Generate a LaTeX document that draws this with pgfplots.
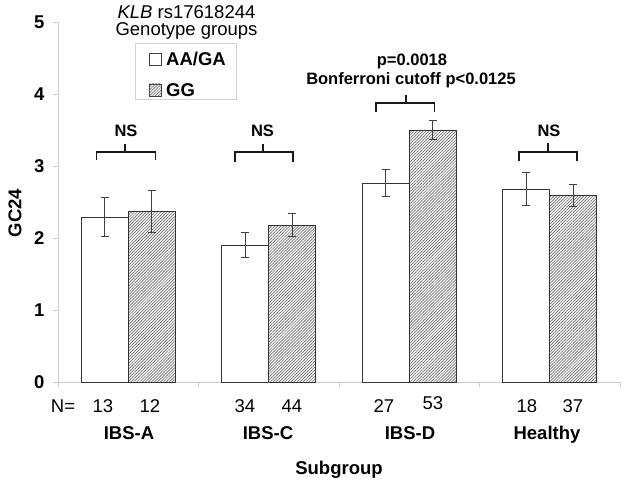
\documentclass[border=0pt]{standalone}
\usepackage{pgfplots}
\pgfplotsset{compat=1.18}
\usepackage{fontspec}
\setmainfont{Liberation Sans}
\usetikzlibrary{patterns,patterns.meta}
\newcommand\fbig{\fontsize{18.5bp}{21bp}\selectfont}
\newcommand\fmid{\fontsize{16.5bp}{19bp}\selectfont}
\newcommand\ftick{\fontsize{18.5bp}{20bp}\selectfont}
\tikzset{hatch/.style={fill=gray!12, postaction={pattern={Lines[angle=45, distance=2.1bp, line width=0.5bp]}, pattern color=black!60}}}
\begin{document}
\begin{tikzpicture}
\path[use as bounding box] (0,0) rectangle (625bp,483bp);
\begin{axis}[
  at={(58bp,101bp)}, anchor=south west,
  scale only axis, width=562bp, height=360bp,
  xmin=0.5, xmax=4.5, ymin=0, ymax=5,
  axis x line=bottom, axis y line=left,
  axis line style={gray!40, -, line width=0.8bp},
  tick align=outside, major tick length=5bp,
  tick style={gray!40, line width=0.8bp},
  xtick={0.5,1.5,2.5,3.5,4.5}, xticklabels={},
  ytick={0,1,2,3,4,5},
  /pgf/number format/assume math mode=true,
  yticklabel style={font=\ftick\bfseries, xshift=-5bp},
  clip=false,
]
% AA/GA
\addplot[ybar, bar width=0.335, bar shift=0, fill=white, draw=black!80, line width=0.8bp,
  error bars/.cd, y dir=both, y explicit,
  error bar style={black!75, line width=1bp},
  error mark options={rotate=90, mark size=4bp, line width=1bp, black!75}]
  coordinates {(0.8325,2.29) +- (0,0.275) (1.8325,1.90) +- (0,0.17) (2.8325,2.76) +- (0,0.19) (3.8325,2.68) +- (0,0.23)};
% GG
\addplot[ybar, bar width=0.335, bar shift=0, hatch, draw=black!80, line width=0.8bp,
  error bars/.cd, y dir=both, y explicit,
  error bar style={black!75, line width=1bp},
  error mark options={rotate=90, mark size=4bp, line width=1bp, black!75}]
  coordinates {(1.1675,2.37) +- (0,0.29) (2.1675,2.18) +- (0,0.155) (3.1675,3.50) +- (0,0.13) (4.1675,2.59) +- (0,0.155)};
% brackets
\addplot[black!90, line width=1.5bp, no marks] coordinates {(0.775,3.083) (0.775,3.194) (1.195,3.194) (1.195,3.083)};
\addplot[black!90, line width=1.5bp, no marks] coordinates {(0.977,3.194) (0.977,3.306)};
\addplot[black!90, line width=1.5bp, no marks] coordinates {(1.76,3.06) (1.76,3.194) (2.173,3.194) (2.173,3.06)};
\addplot[black!90, line width=1.5bp, no marks] coordinates {(1.959,3.194) (1.959,3.306)};
\addplot[black!90, line width=1.5bp, no marks] coordinates {(2.763,3.75) (2.763,3.875) (3.178,3.875) (3.178,3.75)};
\addplot[black!90, line width=1.5bp, no marks] coordinates {(2.977,3.875) (2.977,3.986)};
\addplot[black!90, line width=1.5bp, no marks] coordinates {(3.781,3.069) (3.781,3.194) (4.194,3.194) (4.194,3.069)};
\addplot[black!90, line width=1.5bp, no marks] coordinates {(3.988,3.194) (3.988,3.319)};
\end{axis}
\begin{scope}[x=1bp, y=-1bp, shift={(0bp,483bp)}]
  % y label
  \node[rotate=90, font=\ftick\bfseries] at (15,213) {GC24};
  % N row
  \node[anchor=base, font=\fbig] at (63,413) {N=};
  \node[anchor=base, font=\fbig] at (103,413) {13};
  \node[anchor=base, font=\fbig] at (150,413) {12};
  \node[anchor=base, font=\fbig] at (245,413) {34};
  \node[anchor=base, font=\fbig] at (292,413) {44};
  \node[anchor=base, font=\fbig] at (384,413) {27};
  \node[anchor=base, font=\fbig] at (433,410) {53};
  \node[anchor=base, font=\fbig] at (527,413) {18};
  \node[anchor=base, font=\fbig] at (573,413) {37};
  % group names
  \node[anchor=base, font=\fbig\bfseries] at (129,440) {IBS-A};
  \node[anchor=base, font=\fbig\bfseries] at (268,440) {IBS-C};
  \node[anchor=base, font=\fbig\bfseries] at (410,440) {IBS-D};
  \node[anchor=base, font=\fbig\bfseries] at (547,440) {Healthy};
  \node[anchor=base, font=\fbig\bfseries] at (339,475) {Subgroup};
  % NS and p
  \node[anchor=base, font=\fmid\bfseries] at (126,137) {NS};
  \node[anchor=base, font=\fmid\bfseries] at (262.5,137) {NS};
  \node[anchor=base, font=\fmid\bfseries] at (549,137) {NS};
  \node[anchor=base, font=\fmid\bfseries] at (412,66) {p=0.0018};
  \node[anchor=base, font=\fmid\bfseries] at (411,85) {Bonferroni cutoff p<0.0125};
  % legend
  \node[anchor=base, font=\fbig] at (186.5,19) {\textit{KLB} rs17618244};
  \node[anchor=base, font=\fbig] at (186.5,36) {Genotype groups};
  \draw[gray!35, line width=0.8bp] (135,43) rectangle (236,99);
  \draw[black!75, line width=0.8bp, fill=white] (149,53) rectangle (161,65);
  \draw[black!75, line width=0.8bp, hatch] (149,84) rectangle (161,96);
  \node[anchor=base west, font=\fbig\bfseries, inner sep=0pt] at (166,65.5) {AA/GA};
  \node[anchor=base west, font=\fbig\bfseries, inner sep=0pt] at (166,96.5) {GG};
\end{scope}
\end{tikzpicture}
\end{document}
